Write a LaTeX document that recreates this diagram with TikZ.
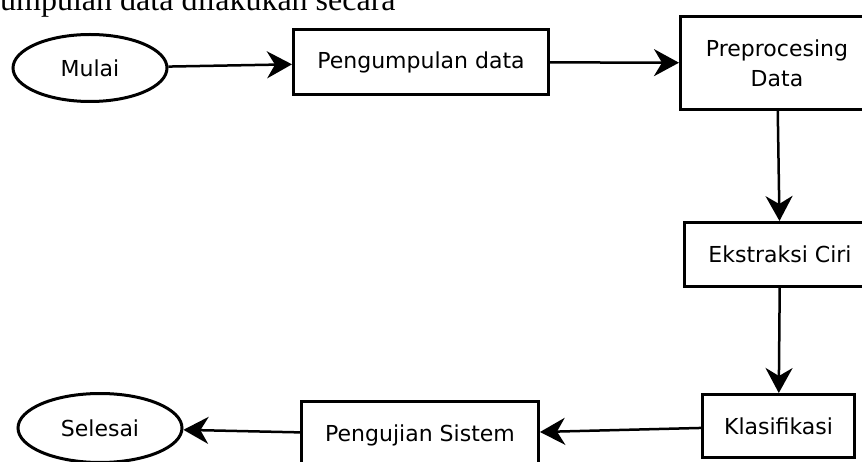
\documentclass[tikz,border=0pt]{standalone}
\usepackage{fontspec}
\setmainfont{DejaVu Sans}
\newfontfamily\serifteks{Liberation Serif}
\usetikzlibrary{shapes.geometric,arrows.meta}

\tikzset{
    proses/.style={draw, line width=3pt, rectangle, inner sep=0pt, align=center,
        font=\fontsize{22}{30}\selectfont},
    terminal/.style={draw, line width=3pt, ellipse, inner sep=0pt,
        font=\fontsize{22}{30}\selectfont},
    alur/.style={line width=2.5pt, -{Stealth[length=25pt,width=27pt,inset=8pt]}}
}

\begin{document}
\begin{tikzpicture}[x=1pt,y=-1pt]
    \useasboundingbox (0,0) rectangle (862,462);
    \clip (0,0) rectangle (862,462);

    % teks di atas gambar
    \node[anchor=base west, inner sep=0pt, font=\serifteks\fontsize{32}{32}\selectfont]
        (teks) at (0,11) {umpulan data dilakukan secara};

    \node[terminal, minimum width=154pt, minimum height=67pt] (Mulai) at (90,68) {Mulai};
    \node[proses, minimum width=255pt, minimum height=65pt] (Pengumpulan) at (421,62) {Pengumpulan data};
    \node[proses, minimum width=193pt, minimum height=93pt] (Preprocesing) at (777,63) {Preprocesing\\Data};
    \node[proses, minimum width=191pt, minimum height=64pt] (Ekstraksi) at (780,254.5) {Ekstraksi Ciri};
    \node[proses, minimum width=152pt, minimum height=63pt] (Klasifikasi) at (778.5,426) {Klasifikasi};
    \node[proses, minimum width=237pt, minimum height=67pt] (Pengujian) at (420,435) {Pengujian Sistem};
    \node[terminal, minimum width=164pt, minimum height=69pt] (Selesai) at (100,428) {Selesai};

    % Alur
    \draw[alur] (Mulai) -- (Pengumpulan);
    \draw[alur] (Pengumpulan) -- (Preprocesing);
    \draw[alur] (Preprocesing) -- (Ekstraksi);
    \draw[alur] (Ekstraksi) -- (Klasifikasi);
    \draw[alur] (Klasifikasi) -- (Pengujian);
    \draw[alur] (Pengujian) -- (Selesai);
\end{tikzpicture}
\end{document}
